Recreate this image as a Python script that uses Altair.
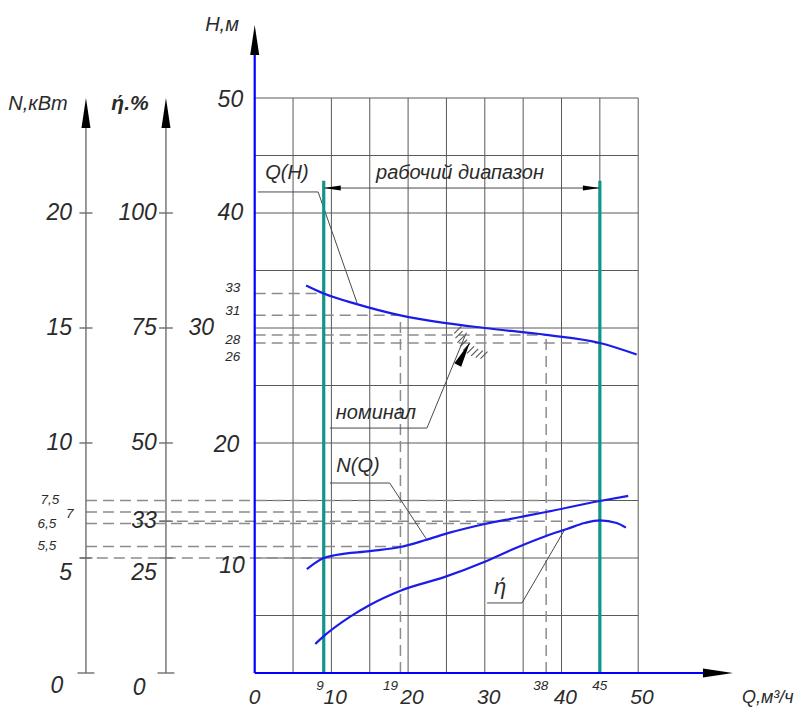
import altair as alt
import pandas as pd
import numpy as np

# ---------------- data ----------------
# head curve Q(H): flow, m3/h  -> head, m
Q_H = [6.7, 9, 13.2, 19, 24.7, 30, 38, 45, 49.8]
H_H = [33.7, 33.0, 32.1, 31.1, 30.45, 30.0, 29.4, 28.7, 27.7]
# power curve N(Q), kW
Q_N = [6.8, 9, 10.6, 15, 19, 22.3, 25.3, 30, 34, 38, 45, 48.7]
N_N = [4.52, 5.0, 5.13, 5.3, 5.48, 5.78, 6.09, 6.48, 6.74, 7.0, 7.48, 7.7]
# efficiency curve, %
Q_E = [7.9, 9, 12.4, 15, 19, 24.8, 30, 34.2, 38, 40.7, 43, 45, 47.2, 48.4]
E_E = [6.3, 8.0, 12.2, 14.8, 17.9, 20.9, 24.2, 27.3, 29.8, 31.3, 32.6, 33.2, 32.6, 31.6]

# axes ticks
H_TICKS = [50, 40, 30, 20, 10]
N_TICKS = [20, 15, 10, 5]
E_TICKS = [100, 75, 50, 33, 25]
Q_TICKS = [10, 20, 30, 40, 50]
GRID = list(range(5, 55, 5))

# working range and nominal point
WORK_RANGE = [9, 45]
NOMINAL_Q, NOMINAL_H = 30, 30

# marked (dashed) points
H_MARK_Q = [9, 19, 38, 45]
H_MARK_H = [33, 31.1, 29.4, 28.7]
H_MARK_TXT = ["33", "31", "28", "26"]
N_MARK_Q = [45, 38, 30, 19, 9]
N_MARK_N = [7.5, 7, 6.5, 5.5, 5]
N_MARK_TXT = ["7,5", "7", "6,5", "5,5"]
E_MARK_Q, E_MARK = 41.5, 33
Q_MARKS = [9, 19, 38, 45]

# the secondary scales are drawn in head units
H_PER_N = 2.0      # 25 kW <-> 50 m
H_PER_E = 0.4      # 125 % <-> 50 m

# ---------------- layout ----------------
W, HGT = 793, 702
PX_Q, PX_H = 7.67, 11.5          # pixels per unit
X0, Y0 = 246.7, 665.0            # view position of the origin
XD = [-X0 / PX_Q, (W - X0) / PX_Q]
YD = [(Y0 - HGT) / PX_H, Y0 / PX_H]
N_AX, E_AX = -22.0, -11.57       # positions of the N and eta axes (in Q units)
FONT = "Liberation Sans"
TXT = "#2b2b2b"
BLUE = "#1c1ce8"
TEAL = "#0f958a"


def X(f):
    return alt.X(f, type="quantitative", scale=alt.Scale(domain=XD, nice=False, zero=False), axis=None)


def Y(f):
    return alt.Y(f, type="quantitative", scale=alt.Scale(domain=YD, nice=False, zero=False), axis=None)


def rules(rows, color, width, dash=None):
    df = pd.DataFrame(rows, columns=["x", "y", "x2", "y2"])
    kw = dict(color=color, strokeWidth=width)
    if dash:
        kw["strokeDash"] = dash
    return alt.Chart(df).mark_rule(**kw).encode(
        x=X("x"), x2=alt.X2("x2"), y=Y("y"), y2=alt.Y2("y2"))


def texts(rows, align="center", bold=False):
    df = pd.DataFrame(rows, columns=["x", "y", "t", "s"])
    kw = dict(align=align, baseline="middle", font=FONT, fontStyle="italic", color=TXT)
    if bold:
        kw["fontWeight"] = "bold"
    return alt.Chart(df).mark_text(**kw).encode(
        x=X("x"), y=Y("y"), text="t:N", size=alt.Size("s:Q", scale=None))


layers = []

# grid
grid_rows = [[0, g, 50, g] for g in GRID] + [[g, 0, g, 50] for g in GRID]
layers.append(rules(grid_rows, "#5a5a5a", 1))

# dashed reference lines
dash_rows = []
for q, h in zip(H_MARK_Q, H_MARK_H):
    dash_rows.append([0, h, q, h])
dash_rows.append([19, 0, 19, H_MARK_H[1]])
dash_rows.append([38, 0, 38, H_MARK_H[2]])
for q, n in zip(N_MARK_Q, N_MARK_N):
    start = N_AX - 0.8 if n == 5 else N_AX
    dash_rows.append([start, n * H_PER_N, q, n * H_PER_N])
dash_rows.append([E_AX - 0.8, E_MARK * H_PER_E, E_MARK_Q, E_MARK * H_PER_E])
layers.append(rules(dash_rows, "#8c8c8c", 1.5, [11, 6]))

# hatching at the nominal point
hatch = []
for phi in np.linspace(190, 262, 9):
    a = np.radians(phi)
    px, py = 31 * np.cos(a), 31 * np.sin(a)
    x1, y1 = NOMINAL_Q + px / PX_Q, NOMINAL_H + py / PX_H
    hatch.append([x1, y1, x1 + 7 / PX_Q, y1 + 7 / PX_H])
layers.append(rules(hatch, "#555555", 1.1))

# left axes (gray) and their ticks
ax_rows = [[N_AX, 0, N_AX, 48], [E_AX, 0, E_AX, 48]]
for n in [0] + N_TICKS:
    w = 1.1 if n == 0 else 0.85
    ax_rows.append([N_AX - w, n * H_PER_N, N_AX + w, n * H_PER_N])
for e in [0] + E_TICKS:
    w = 1.1 if e == 0 else 0.9
    ax_rows.append([E_AX - w, e * H_PER_E, E_AX + w, e * H_PER_E])
layers.append(rules(ax_rows, "#6e6e6e", 1.4))

# leader lines and dimension line
lead = [
    [0.4, 41.83, 8.27, 41.83], [8.27, 41.83, 13.35, 32.17],      # Q(H)
    [9.8, 21.3, 22.46, 21.3], [22.46, 21.3, 27.6, 29.6],         # nominal
    [9.8, 16.52, 17.6, 16.52], [17.6, 16.52, 22.46, 11.57],      # N(Q)
    [30.3, 6.09, 34.85, 6.09], [34.85, 6.09, 40.46, 12.52],      # eta
    [WORK_RANGE[0], 42.17, WORK_RANGE[1], 42.17],                # dimension
]
layers.append(rules(lead, "#4a4a4a", 1))

# working range limits
layers.append(rules([[q, 0, q, 42.8] for q in WORK_RANGE], TEAL, 3.2))

# blue main axes
layers.append(rules([[0, 0, 0, 53.9], [0, 0, 58.6, 0]], "#0000ff", 2.2))

# curves
curves = pd.concat([
    pd.DataFrame({"Q": Q_H, "H": H_H, "s": "H"}),
    pd.DataFrame({"Q": Q_N, "H": [n * H_PER_N for n in N_N], "s": "N"}),
    pd.DataFrame({"Q": Q_E, "H": [e * H_PER_E for e in E_E], "s": "E"}),
])
layers.append(alt.Chart(curves).mark_line(color=BLUE, strokeWidth=2.2, interpolate="monotone").encode(
    x=X("Q"), y=Y("H"), detail="s:N"))

# arrowheads
ARROW = "M0,-1L0.3,1L-0.3,1Z"


def arrow(qt, ht, ang, length):
    a = np.radians(ang)
    return [qt - (length / 2) * np.sin(a) / PX_Q, ht - (length / 2) * np.cos(a) / PX_H, ang, length ** 2]


arr = pd.DataFrame([
    arrow(0, 56.35, 0, 30),
    arrow(62.35, 0, 90, 30),
    arrow(N_AX, 50, 0, 30),
    arrow(E_AX, 50, 0, 30),
    arrow(WORK_RANGE[0], 42.17, 270, 17),
    arrow(WORK_RANGE[1], 42.17, 90, 17),
    arrow(28.07, 28.78, 28, 26),
], columns=["x", "y", "a", "sz"])
layers.append(alt.Chart(arr).mark_point(shape=ARROW, filled=True, color="black", opacity=1, strokeWidth=0).encode(
    x=X("x"), y=Y("y"), angle=alt.Angle("a:Q", scale=None), size=alt.Size("sz:Q", scale=None)))

# ---------------- texts ----------------
BIG, SMALL, TITLE = 23, 13.5, 20
BOTTOM_Y, MARK_Y = -2.15, -1.12
right_rows = []
h_lab_x = {50: -1.5, 40: -1.5, 30: -5.3, 20: -2.0, 10: -1.3}
h_lab_dy = {50: -0.2, 40: 0, 30: 0, 20: -0.2, 10: -0.7}
for h in H_TICKS:
    right_rows.append([h_lab_x[h], h + h_lab_dy[h], str(h), BIG])
for n in N_TICKS:
    right_rows.append([N_AX - 1.8, n * H_PER_N - (1.3 if n == 5 else 0), str(n), BIG])
for e in E_TICKS:
    right_rows.append([E_AX - 1.2, e * H_PER_E - (1.3 if e == 25 else 0), str(e), BIG])
layers.append(texts(right_rows, "right"))

center_rows = [
    [N_AX - 3.8, -1.1, "0", BIG],
    [E_AX - 3.5, -1.3, "0", BIG],
    [0.0, BOTTOM_Y, "0", 21],
]
for q in Q_TICKS:
    center_rows.append([q + 0.5, BOTTOM_Y, str(q), 21])
for q in Q_MARKS:
    dx = {9: -0.5, 19: -1.3, 38: -0.7, 45: 0}[q]
    center_rows.append([q + dx, MARK_Y, str(q), SMALL])
h_small_y = [33.5, 31.5, 29.0, 27.5]
for t, yy in zip(H_MARK_TXT, h_small_y):
    center_rows.append([-2.86, yy, t, SMALL])
n_small = [(-26.7, 15.05), (-24.1, 13.8), (-27.1, 12.96), (-27.1, 11.05)]
for t, (xx, yy) in zip(N_MARK_TXT, n_small):
    center_rows.append([xx, yy, t, SMALL])
center_rows += [
    [-4.26, 56.35, "H,м", TITLE],
    [-28.25, 49.5, "N,кВт", TITLE],
    [66.9, BOTTOM_Y, "Q,м³/ч", 18],
    [4.2, 43.5, "Q(H)", TITLE],
    [26.77, 43.5, "рабочий диапазон", TITLE],
    [15.8, 22.6, "номинал", TITLE],
    [13.47, 18.0, "N(Q)", TITLE],
    [31.98, 7.5, "ή", 22],
]
layers.append(texts(center_rows, "center"))
layers.append(texts([[-16.26, 49.5, "ή.%", 21]], "center", bold=True))

chart = alt.layer(*layers).properties(
    width=W, height=HGT, padding=0,
    autosize=alt.AutoSizeParams(type="none"),
    background="white",
).configure_view(stroke=None)

chart.save("out.html", embed_options={"renderer": "svg", "actions": False})
